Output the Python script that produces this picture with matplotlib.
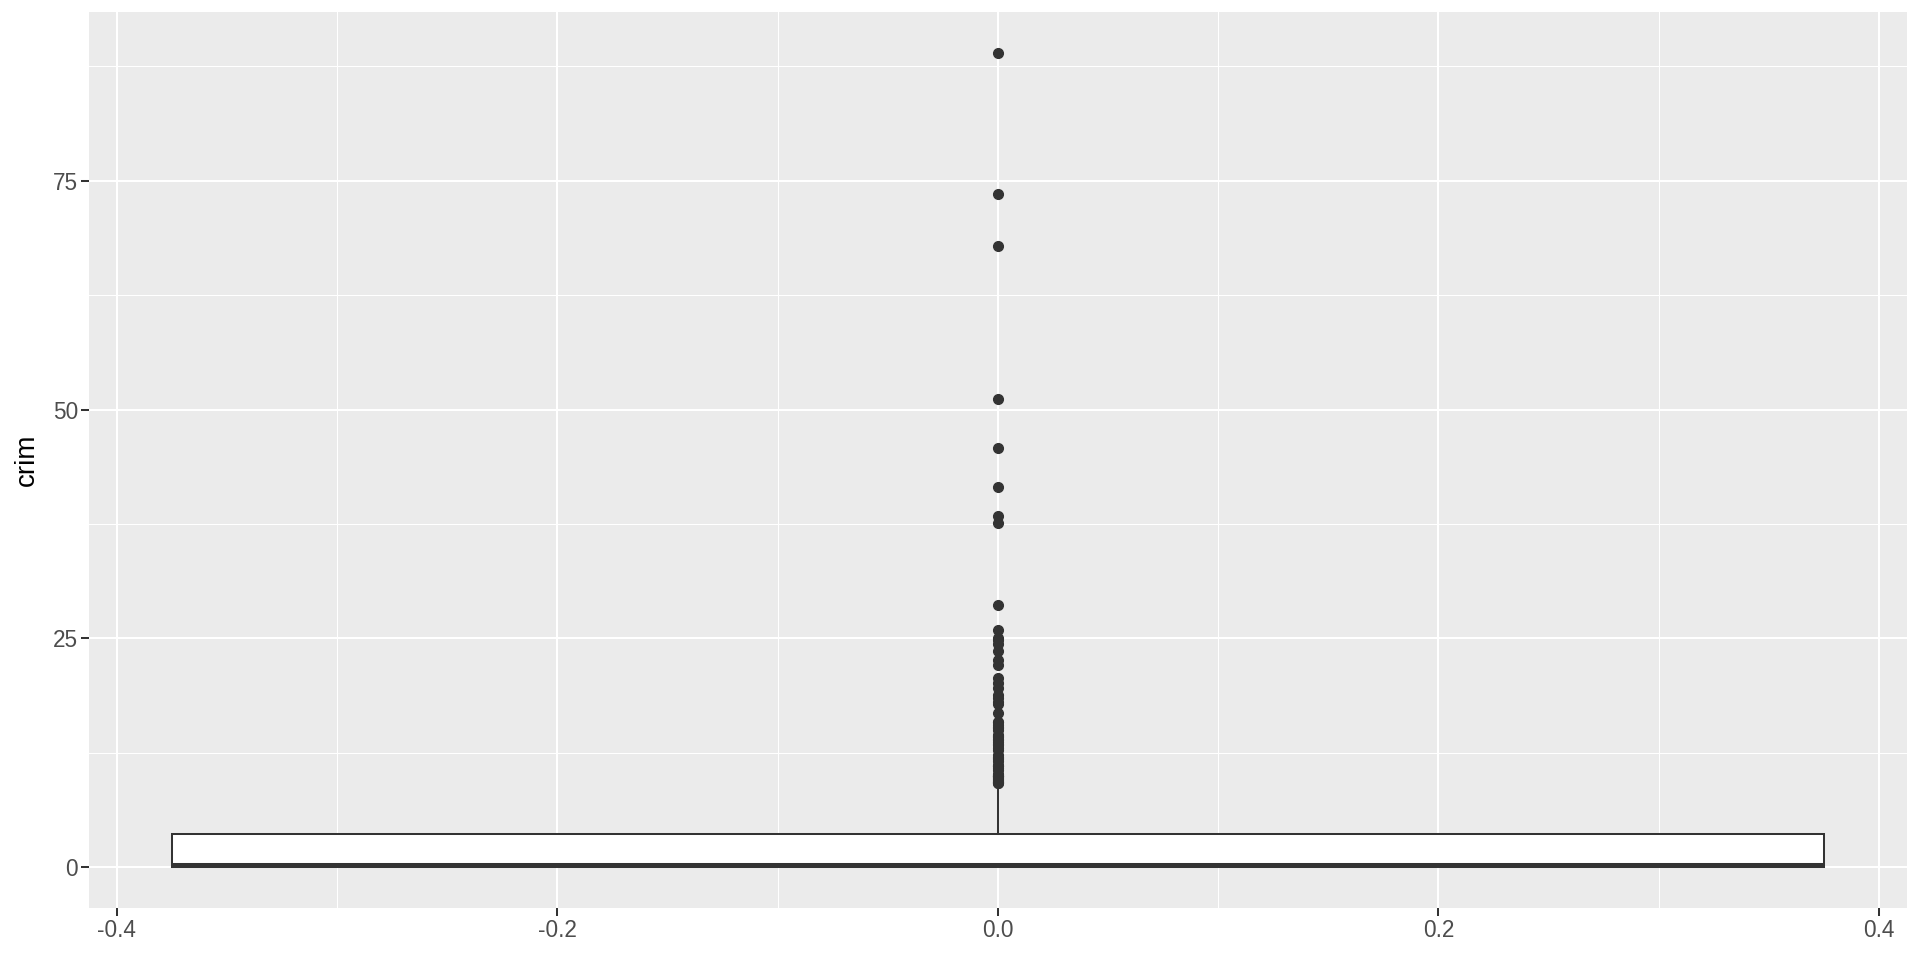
import matplotlib.pyplot as plt
import numpy as np

plt.rcParams['font.family'] = ['Liberation Sans', 'DejaVu Sans']

# box summary for crim
q1 = 0.082
median = 0.257
q3 = 3.677
whisker_low = 0.006
whisker_high = 8.98

# outliers above the upper whisker
outliers = [88.98, 73.53, 67.92, 51.14, 45.75, 41.53, 38.35, 37.66, 28.66,
            25.94, 25.05, 24.80, 24.39, 23.65, 22.60, 22.05, 20.72, 20.08,
            19.61, 18.81, 18.50, 18.08, 17.87, 16.81, 15.87, 15.86, 15.58,
            15.29, 15.18, 15.02, 14.42, 14.33, 14.24, 14.05, 13.91, 13.68,
            13.52, 13.36, 13.08, 12.80, 12.25, 12.05, 11.95, 11.81, 11.58,
            11.16, 11.11, 11.09, 10.83, 10.67, 10.23, 10.06, 9.97, 9.92,
            9.92, 9.82, 9.72, 9.60, 9.51, 9.39, 9.34, 9.33, 9.23, 9.19]

x_ticks = [-0.4, -0.2, 0.0, 0.2, 0.4]
x_tick_labels = ['-0.4', '-0.2', '0.0', '0.2', '0.4']
y_ticks = [0, 25, 50, 75]

fig = plt.figure(figsize=(19.2, 9.6), dpi=100)
ax = fig.add_axes([0.0464, 0.0542, 0.9466, 0.9333])
ax.set_facecolor('#EBEBEB')

stats = [dict(med=median, q1=q1, q3=q3, whislo=whisker_low,
              whishi=whisker_high, fliers=outliers)]
ax.bxp(stats, positions=[0], widths=0.75, patch_artist=True,
       showcaps=False, zorder=3,
       boxprops=dict(facecolor='white', edgecolor='#333333', linewidth=1.45),
       medianprops=dict(color='#333333', linewidth=2.9, solid_capstyle='butt'),
       whiskerprops=dict(color='#333333', linewidth=1.45),
       flierprops=dict(marker='o', markerfacecolor='#333333',
                       markeredgecolor='#333333', markersize=7))

# ggplot style grid
ymin = min(whisker_low, min(outliers))
ymax = max(outliers)
pad = (ymax - ymin) * 0.05
ax.set_ylim(ymin - pad, ymax + pad)
ax.set_xlim(-0.4125, 0.4125)

ax.set_xticks(x_ticks)
ax.set_xticklabels(x_tick_labels)
ax.set_yticks(y_ticks)
ax.set_xticks([-0.3, -0.1, 0.1, 0.3], minor=True)
ax.set_yticks([12.5, 37.5, 62.5, 87.5], minor=True)
ax.grid(which='major', color='white', linewidth=1.45, zorder=0)
ax.grid(which='minor', color='white', linewidth=0.75, zorder=0)
ax.set_axisbelow(True)

ax.tick_params(which='major', length=5.5, width=1.45, color='#333333',
               labelsize=16.3, labelcolor='#4D4D4D', pad=2.5)
ax.tick_params(which='minor', length=0)
for s in ax.spines.values():
    s.set_visible(False)

ax.set_ylabel('crim', fontsize=20, color='black')
ax.yaxis.set_label_coords(-0.027, 0.5)

fig.savefig('out.png', dpi=100)
